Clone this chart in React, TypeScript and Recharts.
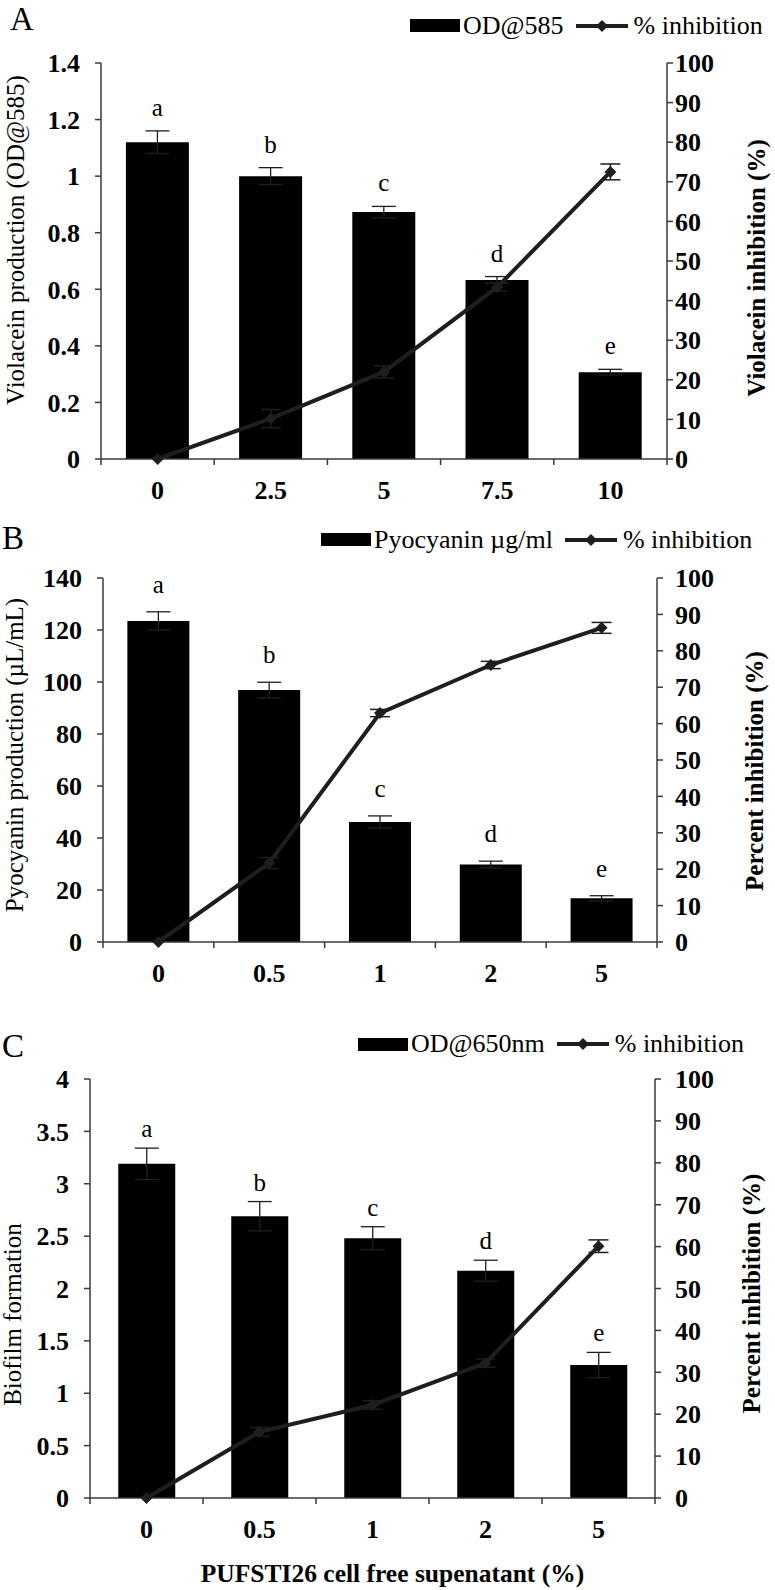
import React from "react";
import {
  ComposedChart,
  Bar,
  Line,
  XAxis,
  YAxis,
  ErrorBar,
  LabelList,
} from "recharts";

const FONT = '"Liberation Serif", "Times New Roman", serif';
const INK = "#1e1e1e";
const AXIS = "#3a3a3a";

// A - violacein
const catsA = ["0", "2.5", "5", "7.5", "10"];
const violacein = [1.12, 1.0, 0.873, 0.633, 0.307];
const violaceinErr = [0.04, 0.03, 0.02, 0.012, 0.01];
const inhibA = [0, 10.2, 22, 43.4, 72.5];
const inhibAErr = [0, 2.3, 1.5, 1, 2];
const ticksA = [0, 0.2, 0.4, 0.6, 0.8, 1, 1.2, 1.4];

// B - pyocyanin
const catsB = ["0", "0.5", "1", "2", "5"];
const pyocyanin = [123.5, 96.9, 46.2, 29.8, 16.8];
const pyocyaninErr = [3.5, 3, 2.3, 1.3, 1];
const inhibB = [0, 21.7, 62.9, 76.1, 86.3];
const inhibBErr = [0, 1.5, 1, 1, 1.5];
const ticksB = [0, 20, 40, 60, 80, 100, 120, 140];

// C - biofilm
const catsC = ["0", "0.5", "1", "2", "5"];
const biofilm = [3.19, 2.69, 2.48, 2.17, 1.27];
const biofilmErr = [0.15, 0.14, 0.11, 0.1, 0.12];
const inhibC = [0, 15.8, 22.2, 32.2, 60.1];
const inhibCErr = [0, 1, 1, 1, 1.5];
const ticksC = [0, 0.5, 1, 1.5, 2, 2.5, 3, 3.5, 4];

const letters = ["a", "b", "c", "d", "e"];
const pctTicks = [0, 10, 20, 30, 40, 50, 60, 70, 80, 90, 100];

const W = 775;

const makeRows = (
  cats: string[],
  bars: number[],
  barErr: number[],
  pct: number[],
  pctErr: number[]
) =>
  cats.map((c, i) => ({
    cat: c,
    bar: bars[i],
    barErr: barErr[i],
    pct: pct[i],
    pctErr: pctErr[i],
  }));

const Diamond = (props: any) => {
  const { cx, cy, index } = props;
  if (cx == null || cy == null) return null;
  const s = 6;
  return (
    <polygon
      key={`dm-${index}`}
      points={`${cx},${cy - s} ${cx + s},${cy} ${cx},${cy + s} ${cx - s},${cy}`}
      fill={INK}
    />
  );
};

const vTitle =
  (text: string, cx: number, dy: number, bold: boolean) => (props: any) => {
    const vb = props.viewBox || {};
    const cy = vb.y + vb.height / 2 + dy;
    return (
      <text
        x={cx}
        y={cy}
        transform={`rotate(-90 ${cx} ${cy})`}
        textAnchor="middle"
        dominantBaseline="central"
        fontFamily={FONT}
        fontSize={25}
        fontWeight={bold ? "bold" : "normal"}
        fill="#000"
      >
        {text}
      </text>
    );
  };

interface PanelProps {
  tag: string;
  top: number;
  height: number;
  mt: number;
  mb: number;
  xAxisH: number;
  leftW: number;
  rightW: number;
  rightTickMargin: number;
  gap: string;
  cats: string[];
  bars: number[];
  barErr: number[];
  pct: number[];
  pctErr: number[];
  leftTicks: number[];
  leftTitle: string;
  rightTitle: string;
  leftTitlePos: [number, number];
  rightTitlePos: [number, number];
  lift: number;
  barName: string;
  legendX: number;
  legendY: number;
  tagTop: number;
  tagLeft: number;
  xTitle?: string;
}

const Panel = (p: PanelProps) => {
  const data = makeRows(p.cats, p.bars, p.barErr, p.pct, p.pctErr);
  const half = (W - p.leftW - p.rightW) / p.cats.length / 2;
  const n = p.cats.length;

  const XTick = (t: any) => {
    const { x, y, payload, index } = t;
    return (
      <g>
        <line x1={x - half} x2={x - half} y1={y} y2={y + 6} stroke={AXIS} strokeWidth={1.5} />
        {index === n - 1 && (
          <line x1={x + half} x2={x + half} y1={y} y2={y + 6} stroke={AXIS} strokeWidth={1.5} />
        )}
        <text
          x={x}
          y={y + 40}
          textAnchor="middle"
          fontFamily={FONT}
          fontSize={26}
          fontWeight="bold"
          fill="#000"
        >
          {payload.value}
        </text>
      </g>
    );
  };

  const letterContent = (l: any) => {
    const { x, y, width, height, index } = l;
    const v = p.bars[index];
    const perUnit = height / v;
    const errTop = y - p.barErr[index] * perUnit;
    return (
      <text
        key={`lt-${index}`}
        x={x + width / 2}
        y={errTop - p.lift}
        textAnchor="middle"
        fontFamily={FONT}
        fontSize={25}
        fill="#000"
      >
        {letters[index]}
      </text>
    );
  };

  const tickStyle = { fill: "#000", fontSize: 26, fontWeight: "bold", fontFamily: FONT };

  return (
    <div style={{ position: "absolute", left: 0, top: p.top, width: W, height: p.height }}>
      <ComposedChart
        width={W}
        height={p.height}
        data={data}
        margin={{ top: p.mt, right: 0, left: 0, bottom: p.mb }}
        barCategoryGap={p.gap}
      >
        <XAxis
          dataKey="cat"
          height={p.xAxisH}
          tickSize={0}
          tickMargin={0}
          tickLine={false}
          axisLine={{ stroke: AXIS, strokeWidth: 1.5 }}
          tick={<XTick />}
          interval={0}
          label={
            p.xTitle
              ? (props: any) => {
                  const vb = props.viewBox || {};
                  return (
                    <text
                      x={vb.x + vb.width / 2 + 20}
                      y={vb.y + 75}
                      textAnchor="middle"
                      dominantBaseline="central"
                      fontFamily={FONT}
                      fontSize={25.5}
                      fontWeight="bold"
                      fill="#000"
                    >
                      {p.xTitle}
                    </text>
                  );
                }
              : undefined
          }
        />
        <YAxis
          yAxisId="left"
          orientation="left"
          width={p.leftW}
          domain={[0, p.leftTicks[p.leftTicks.length - 1]]}
          ticks={p.leftTicks}
          interval={0}
          tickSize={6}
          tickMargin={15}
          tick={tickStyle}
          axisLine={{ stroke: AXIS, strokeWidth: 1.5 }}
          tickLine={{ stroke: AXIS, strokeWidth: 1.5 }}
          label={vTitle(p.leftTitle, p.leftTitlePos[0], p.leftTitlePos[1], false)}
        />
        <YAxis
          yAxisId="right"
          orientation="right"
          width={p.rightW}
          domain={[0, 100]}
          ticks={pctTicks}
          interval={0}
          tickSize={6}
          tickMargin={p.rightTickMargin}
          tick={tickStyle}
          axisLine={{ stroke: AXIS, strokeWidth: 1.5 }}
          tickLine={{ stroke: AXIS, strokeWidth: 1.5 }}
          label={vTitle(p.rightTitle, p.rightTitlePos[0], p.rightTitlePos[1], true)}
        />
        <Bar yAxisId="left" dataKey="bar" fill="#000" isAnimationActive={false}>
          <ErrorBar dataKey="barErr" width={12} stroke={INK} strokeWidth={1.3} direction="y" />
          <LabelList dataKey="bar" content={letterContent} />
        </Bar>
        <Line
          yAxisId="right"
          dataKey="pct"
          stroke={INK}
          strokeWidth={4}
          dot={<Diamond />}
          activeDot={false}
          isAnimationActive={false}
        >
          <ErrorBar dataKey="pctErr" width={10} stroke={INK} strokeWidth={1.5} direction="y" />
        </Line>
      </ComposedChart>

      <div
        style={{
          position: "absolute",
          left: p.tagLeft,
          top: p.tagTop,
          fontFamily: FONT,
          fontSize: 33,
          lineHeight: 1.1,
        }}
      >
        {p.tag}
      </div>

      <div
        style={{
          position: "absolute",
          left: p.legendX,
          top: p.legendY - 15,
          height: 30,
          display: "flex",
          alignItems: "center",
          fontFamily: FONT,
          fontSize: 26,
          lineHeight: 1,
          whiteSpace: "nowrap",
        }}
      >
        <span style={{ display: "inline-block", width: 50, height: 13, background: "#000" }} />
        <span style={{ marginLeft: 3 }}>{p.barName}</span>
        <svg width={52} height={14} style={{ marginLeft: 12 }}>
          <line x1={0} y1={7} x2={52} y2={7} stroke={INK} strokeWidth={4} />
          <polygon points="26,1 32,7 26,13 20,7" fill={INK} />
        </svg>
        <span style={{ marginLeft: 6 }}>% inhibition</span>
      </div>
    </div>
  );
};

export default function App() {
  return (
    <div
      style={{
        position: "absolute",
        left: 0,
        top: 0,
        width: W,
        height: 1590,
        background: "#fff",
      }}
    >
      <Panel
        tag="A"
        top={0}
        height={515}
        mt={63}
        mb={6}
        xAxisH={50}
        leftW={101}
        rightW={108}
        rightTickMargin={2}
        gap="22%"
        cats={catsA}
        bars={violacein}
        barErr={violaceinErr}
        pct={inhibA}
        pctErr={inhibAErr}
        leftTicks={ticksA}
        leftTitle="Violacein production (OD@585)"
        rightTitle="Violacein inhibition (%)"
        leftTitlePos={[15, -21]}
        rightTitlePos={[756, 7]}
        lift={15}
        barName="OD@585"
        legendX={410}
        legendY={25.5}
        tagTop={1}
        tagLeft={10}
      />
      <Panel
        tag="B"
        top={515}
        height={495}
        mt={63}
        mb={18}
        xAxisH={50}
        leftW={103}
        rightW={118}
        rightTickMargin={12}
        gap="22%"
        cats={catsB}
        bars={pyocyanin}
        barErr={pyocyaninErr}
        pct={inhibB}
        pctErr={inhibBErr}
        leftTicks={ticksB}
        leftTitle="Pyocyanin production (µL/mL)"
        rightTitle="Percent inhibition (%)"
        leftTitlePos={[14, -5]}
        rightTitlePos={[754, 11]}
        lift={19}
        barName="Pyocyanin µg/ml"
        legendX={321}
        legendY={24.5}
        tagTop={5}
        tagLeft={2}
      />
      <Panel
        tag="C"
        top={1010}
        height={580}
        mt={69}
        mb={2}
        xAxisH={90}
        leftW={90}
        rightW={120}
        rightTickMargin={14}
        gap="25%"
        cats={catsC}
        bars={biofilm}
        barErr={biofilmErr}
        pct={inhibC}
        pctErr={inhibCErr}
        leftTicks={ticksC}
        leftTitle="Biofilm formation"
        rightTitle="Percent inhibition (%)"
        leftTitlePos={[12, 26]}
        rightTitlePos={[751, 5]}
        lift={11}
        barName="OD@650nm"
        legendX={358}
        legendY={34}
        tagTop={18}
        tagLeft={2}
        xTitle="PUFSTI26 cell free supenatant (%)"
      />
    </div>
  );
}
